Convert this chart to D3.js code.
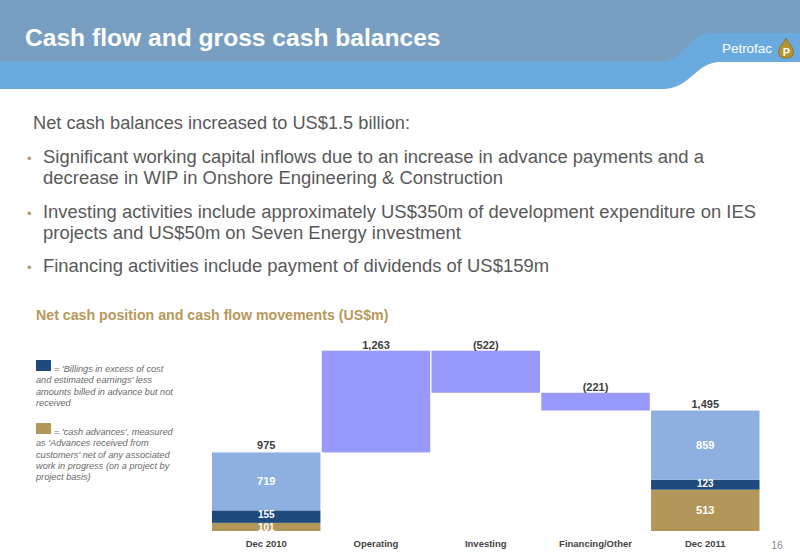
<!DOCTYPE html>
<html>
<head>
<meta charset="utf-8">
<script src="https://cdn.jsdelivr.net/npm/d3@7/dist/d3.min.js"></script>
<style>
  html, body { margin: 0; padding: 0; background: #fff; }
  svg { display: block; font-family: "Liberation Sans", Arial, sans-serif; }
</style>
</head>
<body>
<svg id="chart" width="800" height="554"></svg>
<script>
// ---- Data ----
const categories = ["Dec 2010", "Operating", "Investing", "Financing/Other", "Dec 2011"];
const movementCategories = ["Operating", "Investing", "Financing/Other"];
const movementValues = [1263, -522, -221];
const movementLabels = ["1,263", "(522)", "(221)"];
const stackKeys = ["cashAdvances", "billings", "other"];
const dec2010Values = [101, 155, 719];
const dec2011Values = [513, 123, 859];
const totalLabels = ["975", "1,495"];
const legendBillings = ["= 'Billings in excess of cost", "and estimated earnings' less", "amounts billed in advance but not", "received"];
const legendAdvances = ["= 'cash advances', measured", "as 'Advances received from", "customers' net of any associated", "work in progress (on a project by", "project basis)"];
const bodyLines = [
  {text: "Net cash balances increased to US$1.5 billion:", bullet: false, len: 377},
  {text: "Significant working capital inflows due to an increase in advance payments and a", bullet: true, len: 661},
  {text: "decrease in WIP in Onshore Engineering & Construction", bullet: false, indent: true, len: 460},
  {text: "Investing activities include approximately US$350m of development expenditure on IES", bullet: true, len: 713},
  {text: "projects and US$50m on Seven Energy investment", bullet: false, indent: true, len: 418},
  {text: "Financing activities include payment of dividends of US$159m", bullet: true, len: 506}
];
const bodyBaselines = [129, 163, 184, 218, 239, 272];

const colors = {
  cashAdvances: "#B3975A",
  billings: "#1F4A7D",
  other: "#8DB0E1",
  movement: "#9999FB"
};

const svg = d3.select("#chart");

// ---- Header ----
svg.append("path")
  .attr("d", "M0,0 H800 V62 H720 C696,62 690,89 663,89 H0 Z")
  .attr("fill", "#6AABDF");
svg.append("path")
  .attr("d", "M0,0 H800 V33 H713 C689,33 684,62 660,62 H0 Z")
  .attr("fill", "#789FC1");
svg.append("text")
  .attr("x", 25).attr("y", 46)
  .attr("fill", "#fff")
  .attr("font-size", 24.6).attr("font-weight", "bold")
  .text("Cash flow and gross cash balances");
svg.append("text")
  .attr("x", 722).attr("y", 53)
  .attr("fill", "#fff")
  .attr("font-size", 13.5)
  .attr("textLength", 50).attr("lengthAdjust", "spacingAndGlyphs")
  .text("Petrofac");
// logo droplet
const logo = svg.append("g").attr("transform", "translate(786,38)");
logo.append("path")
  .attr("d", "M0,0 C2,5 7.5,9 7.5,14 C7.5,18.5 4.2,20 0,20 C-4.2,20 -7.5,18.5 -7.5,14 C-7.5,9 -2,5 0,0 Z")
  .attr("fill", "#B8922E").attr("stroke", "#8A6A1C").attr("stroke-width", 0.8);
logo.append("text")
  .attr("x", 0.5).attr("y", 18).attr("text-anchor", "middle")
  .attr("fill", "#fff").attr("font-size", 11).attr("font-weight", "bold")
  .text("P");

// ---- Body text ----
const body = svg.append("g").attr("fill", "#595959").attr("font-size", 18);
bodyLines.forEach((l, i) => {
  const x = l.bullet || l.indent ? 43 : 33;
  body.append("text")
    .attr("x", x).attr("y", bodyBaselines[i])
    .attr("textLength", l.len).attr("lengthAdjust", "spacingAndGlyphs")
    .text(l.text);
  if (l.bullet) {
    body.append("text")
      .attr("x", 27).attr("y", bodyBaselines[i])
      .attr("fill", "#B39B62")
      .attr("font-size", 13)
      .text("\u2022");
  }
});

// ---- Chart subtitle ----
svg.append("text")
  .attr("x", 36).attr("y", 320)
  .attr("fill", "#B8985B")
  .attr("font-size", 14.2).attr("font-weight", "bold")
  .text("Net cash position and cash flow movements (US$m)");

// ---- Legend ----
function legendBlock(lines, color, top, firstBase) {
  svg.append("rect").attr("x", 36).attr("y", top).attr("width", 15).attr("height", 11).attr("fill", color);
  const g = svg.append("g").attr("fill", "#6a6a6a").attr("font-size", 9.2).attr("font-style", "italic");
  lines.forEach((t, i) => {
    g.append("text")
      .attr("x", i === 0 ? 54 : 36)
      .attr("y", firstBase + i * 11.3)
      .text(t);
  });
}
legendBlock(legendBillings, colors.billings, 360, 372);
legendBlock(legendAdvances, colors.cashAdvances, 423, 435);

// ---- Waterfall ----
const x = d3.scaleBand().domain(categories).range([212, 759.5]).paddingInner(0.012).paddingOuter(0);

let running = d3.sum(dec2010Values);
const moveRows = movementCategories.map((c, i) => {
  const start = running;
  const end = running + movementValues[i];
  running = end;
  return {cat: c, lo: Math.min(start, end), hi: Math.max(start, end), label: movementLabels[i]};
});
const maxTop = d3.max(moveRows, d => d.hi);
const y = d3.scaleLinear().domain([0, maxTop]).range([531, 350.7]);

const stackData = [
  Object.fromEntries([["cat", "Dec 2010"], ...stackKeys.map((k, i) => [k, dec2010Values[i]])]),
  Object.fromEntries([["cat", "Dec 2011"], ...stackKeys.map((k, i) => [k, dec2011Values[i]])])
];
const series = d3.stack().keys(stackKeys)(stackData);

const gBars = svg.append("g");
const gLabels = svg.append("g");
series.forEach(s => {
  s.forEach(d => {
    const h = y(d[0]) - y(d[1]);
    gBars.append("rect")
      .attr("x", x(d.data.cat)).attr("width", x.bandwidth())
      .attr("y", y(d[1])).attr("height", h)
      .attr("fill", colors[s.key]);
    // small segments: keep labels from colliding
    const small = h < 14;
    let cy = (y(d[0]) + y(d[1])) / 2;
    if (small && s.key === "billings") cy -= 1.8;
    if (small && s.key === "cashAdvances") cy += 0.6;
    gLabels.append("text")
      .attr("x", x(d.data.cat) + x.bandwidth() / 2)
      .attr("y", cy)
      .attr("dy", "0.36em")
      .attr("text-anchor", "middle")
      .attr("fill", "#fff").attr("font-size", small ? 10 : 11).attr("font-weight", "bold")
      .text(d.data[s.key]);
  });
});
stackData.forEach((d, i) => {
  const tot = d3.sum(stackKeys, k => d[k]);
  gLabels.append("text")
    .attr("x", x(d.cat) + x.bandwidth() / 2)
    .attr("y", y(tot) - 3)
    .attr("text-anchor", "middle")
    .attr("fill", "#404040").attr("font-size", 11).attr("font-weight", "bold")
    .text(totalLabels[i]);
});
moveRows.forEach(r => {
  gBars.append("rect")
    .attr("x", x(r.cat)).attr("width", x.bandwidth())
    .attr("y", y(r.hi)).attr("height", y(r.lo) - y(r.hi))
    .attr("fill", colors.movement);
  gLabels.append("text")
    .attr("x", x(r.cat) + x.bandwidth() / 2)
    .attr("y", y(r.hi) - 1.5)
    .attr("text-anchor", "middle")
    .attr("fill", "#404040").attr("font-size", 11).attr("font-weight", "bold")
    .text(r.label);
});

// category axis
const axis = d3.axisBottom(x).tickSize(0).tickPadding(0);
const gAxis = svg.append("g").attr("transform", "translate(0,540)").call(axis);
gAxis.select(".domain").remove();
gAxis.selectAll("text")
  .attr("dy", "0.71em")
  .attr("fill", "#444")
  .attr("font-size", 9.5).attr("font-weight", "bold")
  .attr("font-family", "'Liberation Sans', Arial, sans-serif");

// page number
svg.append("text")
  .attr("x", 777).attr("y", 549).attr("text-anchor", "middle")
  .attr("fill", "#888").attr("font-size", 10.5)
  .text("16");
</script>
</body>
</html>
